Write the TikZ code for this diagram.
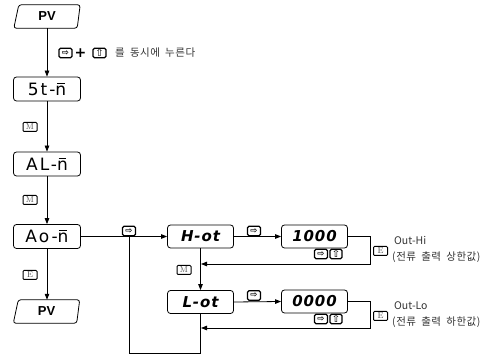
\documentclass[tikz,border=0pt]{standalone}
\usepackage{fontspec}
\usetikzlibrary{arrows.meta}
\newfontfamily\dv{DejaVu Sans}
\newfontfamily\kr[LetterSpace=5,WordSpace=1.8]{Noto Sans CJK KR}
\newfontfamily\krl{Noto Sans CJK KR}
\newfontfamily\lsb{Liberation Sans}
\newfontfamily\seg[LetterSpace=12]{DejaVu Sans}
\newfontfamily\segb[LetterSpace=6]{DejaVu Sans}
\newcommand\barn{\ooalign{n\cr\hidewidth\raisebox{0.66em}{\rule{0.45em}{0.07em}}\hidewidth\cr}}
\tikzset{
  con/.style={line width=0.8pt},
  arr/.style={con,-{Triangle[length=6pt,width=4.5pt]}},
  segbox/.style={draw,rounded corners=3pt,line width=0.8pt,minimum width=67pt,minimum height=24pt,inner sep=0pt,
     font=\seg\fontsize{17}{17}\selectfont},
  segboxb/.style={draw,rounded corners=3pt,line width=0.8pt,minimum width=66pt,minimum height=23pt,inner sep=0pt,
     font=\segb\bfseries\itshape\fontsize{15}{15}\selectfont},
  pvnode/.style={minimum width=64pt,minimum height=23pt,inner sep=0pt,font=\lsb\bfseries\fontsize{13}{13}\selectfont},
  keyicon/.style={draw,rounded corners=1.5pt,line width=1.1pt,minimum width=13pt,minimum height=9.5pt,inner sep=0pt,
     font=\dv\bfseries\fontsize{8.5}{8.5}\selectfont},
  upicon/.style={keyicon,font=\dv\fontsize{10}{10}\selectfont},
  btnicon/.style={draw,rounded corners=1pt,line width=1pt,minimum width=14pt,minimum height=9pt,inner sep=0pt,
     font=\rmfamily\fontsize{8.5}{8.5}\selectfont,text=black!70},
  lbl/.style={font=\kr\fontsize{10.5}{12}\selectfont,text=black!80,anchor=west,inner sep=0pt},
  lbll/.style={font=\krl\fontsize{10.5}{12}\selectfont,text=black!80,anchor=west,inner sep=0pt},
}
\begin{document}
\begin{tikzpicture}[x=1pt,y=-1pt]
\useasboundingbox (0,0) rectangle (490,355);
% left column
\node[pvnode] (pv1) at (47,16.5) {PV};
\draw[line width=0.8pt,rounded corners=2.5pt]
  ([xshift=4pt]pv1.north west) -- ([xshift=1pt]pv1.north east) -- ([xshift=-2pt]pv1.south east) -- ([xshift=-1pt]pv1.south west) -- cycle;
\node[segbox] (st) at (47,89) {5t-\barn};
\node[segbox] (al) at (47,164) {AL-\barn};
\node[segbox] (ao) at (47,236.5) {Ao-\barn};
\node[pvnode] (pv2) at (46.5,311.5) {PV};
\draw[line width=0.8pt,rounded corners=2.5pt]
  ([xshift=4pt]pv2.north west) -- ([xshift=1pt]pv2.north east) -- ([xshift=-2pt]pv2.south east) -- ([xshift=-1pt]pv2.south west) -- cycle;

\draw[arr] (pv1.south) -- (st.north);
\draw[arr] (st.south) -- (al.north);
\draw[arr] (al.south) -- (ao.north);
\draw[arr] (ao.south) -- (ao.south |- pv2.north);

% top label
\node[keyicon] (ka) at (65.5,53) {⇨};
\node[font=\dv\bfseries\fontsize{14}{14}\selectfont,inner sep=0pt] (plus) at (80.5,53) {+};
\node[upicon] (kb) at (99.5,53) {⇧};
\node[lbl] (t1) at (115,53) {를 동시에 누른다};

\node[btnicon] (m1) at (30,127) {M};
\node[btnicon] (m2) at (30,200) {M};
\node[btnicon] (e1) at (30,275) {E};

% right part
\node[segboxb] (ho) at (200.5,236.5) {H-ot};
\node[segboxb] (lo) at (200.5,302) {L-ot};
\node[segboxb] (v1) at (314.5,236.5) {1000};
\node[segboxb] (v2) at (314.5,301.5) {0000};

\coordinate (j) at (129,236.5);
\coordinate (b1) at (129,353);
\coordinate (b2) at (200.5,353);
\draw[arr] (ao.east) -- (ho.west);
\draw[con] (j) -- (b1) -- (b2) -- (lo.south);
\draw[arr] (ho.south) -- (lo.north);
\draw[arr] (ho.east) -- (v1.west);
\draw[arr] (lo.east) -- (v2.west);

\coordinate (r1) at (370,264);
\coordinate (f1) at (201,264);
\coordinate (r2) at (370,328);
\coordinate (f2) at (201,328);
\draw[arr] (v1.east) -| (r1) -- (f1);
\draw[arr] (v2.east) -| (r2) -- (f2);

\node[keyicon] (kj) at (129,231) {⇨};
\node[keyicon] (kh) at (254,231) {⇨};
\node[keyicon] (kl) at (254,295.5) {⇨};
\node[btnicon] (m3) at (184,270) {M};

\node[keyicon,minimum width=13pt] (k1) at (321,254) {⇨};
\node[upicon,minimum width=12pt] (k2) at (336,254) {⇧};
\node[keyicon,minimum width=13pt] (k3) at (321,319) {⇨};
\node[upicon,minimum width=12pt] (k4) at (336,319) {⇧};

\node[btnicon] (e2) at (380.5,251) {E};
\node[btnicon] (e3) at (380.5,316) {E};
\node[lbll] (o1) at (394,241) {Out-Hi};
\node[lbl] (o1b) at (392,257.5) {(전류 출력 상한값)};
\node[lbll] (o2) at (394,306) {Out-Lo};
\node[lbl] (o2b) at (392,322.5) {(전류 출력 하한값)};
\end{tikzpicture}
\end{document}
